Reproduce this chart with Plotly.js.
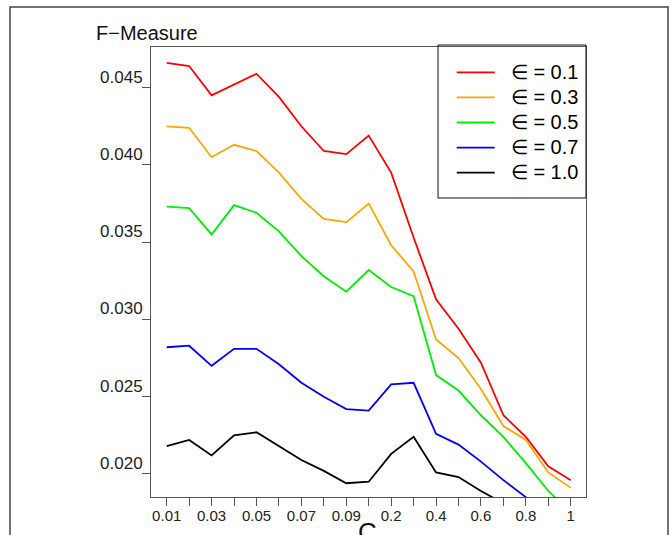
<!DOCTYPE html>
<html>
<head>
<meta charset="utf-8">
<script src="https://cdn.plot.ly/plotly-3.0.1.min.js"></script>
<style>
html, body { margin: 0; padding: 0; background: #ffffff; }
#chart { width: 671px; height: 535px; }
</style>
</head>
<body>
<div id="chart"></div>
<script>
// Categories (C values)
const cValues = ['0.01','0.02','0.03','0.04','0.05','0.06','0.07','0.08','0.09','0.1',
                 '0.2','0.3','0.4','0.5','0.6','0.7','0.8','0.9','1'];
const tickLabels = ['0.01','','0.03','','0.05','','0.07','','0.09','',
                    '0.2','','0.4','','0.6','','0.8','','1'];
const seriesNames = ['\u2208 = 0.1', '\u2208 = 0.3', '\u2208 = 0.5', '\u2208 = 0.7', '\u2208 = 1.0'];

// F-Measure per epsilon
const eps01 = [0.0466, 0.0464, 0.0445, 0.0452, 0.0459, 0.0444, 0.0425, 0.0409, 0.0407, 0.0419,
               0.0395, 0.0353, 0.0313, 0.0294, 0.0272, 0.0238, 0.0224, 0.0205, 0.0196];
const eps03 = [0.0425, 0.0424, 0.0405, 0.0413, 0.0409, 0.0395, 0.0378, 0.0365, 0.0363, 0.0375,
               0.0348, 0.0331, 0.0287, 0.0275, 0.0255, 0.0231, 0.0222, 0.0201, 0.0191];
const eps05 = [0.0373, 0.0372, 0.0355, 0.0374, 0.0369, 0.0357, 0.0341, 0.0328, 0.0318, 0.0332,
               0.0321, 0.0315, 0.0264, 0.0254, 0.0238, 0.0224, 0.0207, 0.0189, 0.0175];
const eps07 = [0.0282, 0.0283, 0.0270, 0.0281, 0.0281, 0.0271, 0.0259, 0.0250, 0.0242, 0.0241,
               0.0258, 0.0259, 0.0226, 0.0219, 0.0208, 0.0196, 0.0185, 0.0176, 0.0168];
const eps10 = [0.0218, 0.0222, 0.0212, 0.0225, 0.0227, 0.0218, 0.0209, 0.0202, 0.0194, 0.0195,
               0.0213, 0.0224, 0.0201, 0.0198, 0.0189, 0.0181, 0.0175, 0.0170, 0.0165];
const yTicks = [0.020, 0.025, 0.030, 0.035, 0.040, 0.045];

const allSeries = [eps01, eps03, eps05, eps07, eps10];
const colors = ['#ff0000', '#ffa500', '#00ee00', '#0000ff', '#000000'];

const traces = allSeries.map((ys, i) => ({
  type: 'scatter',
  mode: 'lines',
  x: cValues,
  y: ys,
  name: '<span style="font-size:20px">\u00a0\u00a0' + seriesNames[i] + '</span>',
  line: { color: colors[i], width: 1.8 },
  hoverinfo: 'x+y'
}));

const axisFont = { family: 'Liberation Sans, Arial, sans-serif', size: 17, color: '#222' };

const layout = {
  width: 671,
  height: 535,
  margin: { l: 151, r: 85, t: 47, b: 38, pad: 0 },
  paper_bgcolor: '#ffffff',
  plot_bgcolor: '#ffffff',
  showlegend: true,
  legend: {
    x: 0.6913, y: 0.9828, xanchor: 'left', yanchor: 'top',
    bgcolor: 'rgba(255,255,255,0)', borderwidth: 0,
    itemwidth: 38,
    font: { family: 'Liberation Sans, Arial, sans-serif', size: 17, color: '#000' },
    tracegroupgap: 0
  },
  xaxis: {
    type: 'category',
    categoryorder: 'array',
    categoryarray: cValues,
    range: [-0.7, 18.68],
    tickmode: 'array',
    tickvals: cValues,
    ticktext: tickLabels,
    ticks: 'outside', ticklen: 8, tickwidth: 1, tickcolor: '#555',
    ticklabelstandoff: -3,
    showline: true, linecolor: '#555', linewidth: 1, mirror: true,
    showgrid: false, zeroline: false,
    tickfont: { family: 'Liberation Sans, Arial, sans-serif', size: 15, color: '#222' },
    fixedrange: true
  },
  yaxis: {
    range: [0.01851, 0.04763],
    tickmode: 'array',
    tickvals: yTicks,
    ticktext: yTicks.map(v => v.toFixed(3)),
    ticks: 'outside', ticklen: 8, tickwidth: 1, tickcolor: '#555',
    ticklabelshift: -11,
    ticklabelstandoff: -4,
    showline: true, linecolor: '#555', linewidth: 1, mirror: true,
    showgrid: false, zeroline: false,
    tickfont: axisFont,
    fixedrange: true
  },
  annotations: [
    {
      text: 'F\u2212Measure', xref: 'paper', yref: 'paper',
      x: -0.0092, y: 1.031, xanchor: 'center', yanchor: 'middle',
      showarrow: false,
      font: { family: 'Liberation Sans, Arial, sans-serif', size: 20, color: '#111' }
    },
    {
      text: 'C', xref: 'paper', yref: 'paper',
      x: 0.4985, y: -0.078, xanchor: 'center', yanchor: 'middle',
      showarrow: false,
      font: { family: 'Liberation Sans, Arial, sans-serif', size: 26, color: '#111' }
    }
  ],
  shapes: [
    // legend box
    { type: 'rect', xref: 'paper', yref: 'paper',
      x0: 0.6598, x1: 1.0, y0: (497 - 198) / 450, y1: (497 - 45) / 450,
      line: { color: '#111', width: 1 }, fillcolor: 'rgba(255,255,255,0)', layer: 'above' },
    // outer figure frame
    { type: 'rect', xref: 'paper', yref: 'paper',
      x0: (10 - 151) / 435, x1: (668 - 151) / 435, y0: (497 - 545) / 450, y1: (497 - 7) / 450,
      line: { color: '#444', width: 1.5 }, fillcolor: 'rgba(0,0,0,0)', layer: 'below' }
  ]
};

Plotly.newPlot('chart', traces, layout, { displayModeBar: false, staticPlot: true });
</script>
</body>
</html>
